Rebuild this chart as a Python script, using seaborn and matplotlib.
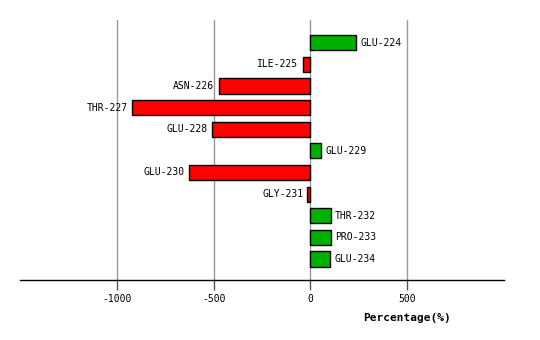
import matplotlib
matplotlib.use("Agg")
import matplotlib.pyplot as plt
import seaborn as sns
import pandas as pd

residues = ["GLU-224", "ILE-225", "ASN-226", "THR-227", "GLU-228", "GLU-229",
            "GLU-230", "GLY-231", "THR-232", "PRO-233", "GLU-234"]
values = [237, -40, -474, -923, -509, 55, -629, -15, 105, 105, 100]
x_ticks = [-1000, -500, 0, 500]

df = pd.DataFrame({"residue": residues, "value": values})
df["sign"] = ["pos" if v >= 0 else "neg" for v in values]

sns.set_style("white")
plt.rcParams["font.family"] = ["DejaVu Sans Mono", "DejaVu Sans"]
plt.rcParams["text.color"] = "black"
plt.rcParams["xtick.color"] = "black"
plt.rcParams["axes.labelcolor"] = "black"

fig = plt.figure(figsize=(5.4, 3.4), dpi=100)
ax = fig.add_axes([20/540, 1 - 280/340, 484/540, 260/340])

sns.barplot(data=df, y="residue", x="value", hue="sign", orient="h",
            palette={"pos": "#00b000", "neg": "#ff0000"}, width=0.7,
            saturation=1, edgecolor="black", linewidth=1, legend=False,
            ax=ax, dodge=False, order=residues)

ax.set_xlim(-1500, 1000)
ax.set_ylim(10.97, -1.05)
ax.set_xticks(x_ticks)
ax.set_xticklabels([str(t) for t in x_ticks], fontsize=7)
ax.set_yticks([])
ax.set_ylabel("")
ax.set_xlabel("Percentage(%)", fontsize=8, fontweight="bold")
ax.xaxis.set_label_coords((500 + 1500) / 2500, -0.125)
for t in x_ticks:
    ax.axvline(t, color="#999999", linewidth=1, zorder=0)
ax.tick_params(axis="x", length=7, width=1, color="#555555", pad=3, bottom=True)
for s in ["top", "right", "left"]:
    ax.spines[s].set_visible(False)
ax.spines["bottom"].set_color("black")
ax.spines["bottom"].set_linewidth(1)

for i, (r, v) in enumerate(zip(residues, values)):
    if v >= 0:
        ax.text(v + 22, i, r, ha="left", va="center", fontsize=7)
    else:
        ax.text(v - 22, i, r, ha="right", va="center", fontsize=7)

fig.savefig("out.png", dpi=100)
